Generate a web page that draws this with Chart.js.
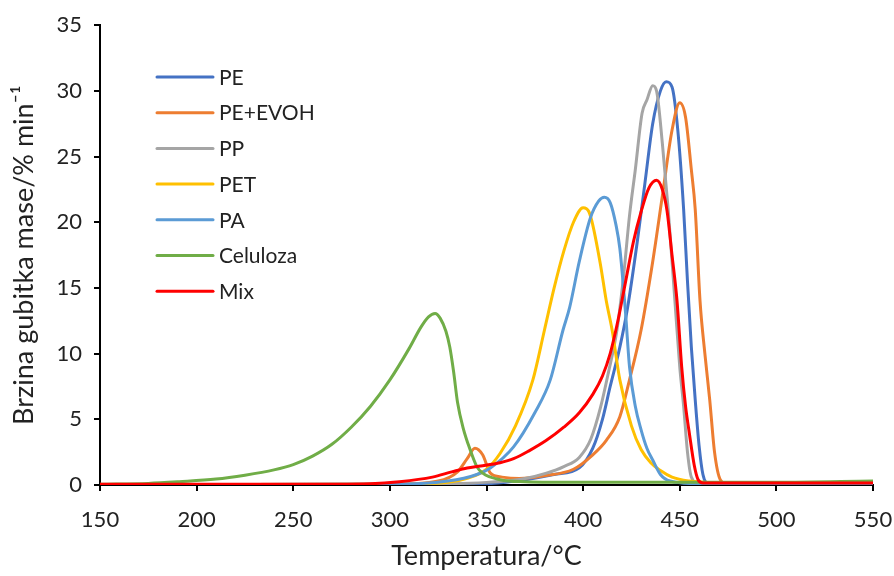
<!DOCTYPE html>
<html>
<head>
<meta charset="utf-8">
<script src="https://cdn.jsdelivr.net/npm/chart.js@4.4.0/dist/chart.umd.min.js"></script>
<style>
  html, body { margin: 0; padding: 0; background: #fff; }
  #wrap { width: 894px; height: 576px; }
</style>
</head>
<body>
<div id="wrap"><canvas id="myChart" width="894" height="576"></canvas></div>
<script>
// temperatures (°C) and rates (% min-1)
var peT   = [150, 300, 350, 370, 385, 398, 405, 410, 414, 419, 423, 428, 432, 436, 440, 443, 446, 449, 452, 454, 456, 458, 460, 462, 465, 470, 550];
var peY   = [0.02, 0.05, 0.1, 0.4, 0.8, 1.3, 2.8, 5, 7.5, 10.5, 13.5, 18.5, 23, 27.5, 30, 30.7, 30.3, 27, 21, 15.5, 10.5, 6.5, 3, 0.8, 0.1, 0.05, 0.05];

var evohT = [150, 300, 325, 335, 340, 344, 348, 352, 358, 367, 380, 395, 405, 412, 419, 424, 430, 436, 441, 446, 450, 453, 456, 458, 460.5, 463, 465.5, 468, 471, 475, 550];
var evohY = [0.02, 0.05, 0.3, 1.0, 2.0, 2.8, 2.3, 0.9, 0.6, 0.5, 0.7, 1.2, 2.3, 3.4, 5.2, 8, 11.8, 17, 22, 27, 29.1, 28, 24, 21, 14, 10, 6.5, 2.5, 0.4, 0.05, 0.05];

var ppT   = [150, 300, 350, 370, 381, 390, 398, 404, 409, 413, 417.5, 421, 424, 427, 430.5, 433, 436, 438, 441, 444, 447.5, 450, 452, 454, 456, 460, 550];
var ppY   = [0.02, 0.05, 0.2, 0.5, 0.9, 1.4, 2.1, 3.5, 5.9, 8.5, 11.8, 16, 20.5, 24, 28.3, 29.3, 30.4, 30, 26, 21, 14, 9, 6, 2.5, 0.6, 0.1, 0.05];

var petT  = [150, 300, 330, 340, 350, 357, 365, 374, 380, 385, 390, 395, 400, 403, 408.7, 412, 415, 419, 425, 430, 435, 440, 446, 455, 470, 500, 550];
var petY  = [0.02, 0.05, 0.2, 0.5, 1.2, 2.4, 4.5, 8, 11.8, 15, 17.8, 20, 21.1, 20.8, 17, 14, 11.8, 8, 4.5, 2.7, 1.7, 1.1, 0.6, 0.3, 0.15, 0.1, 0.15];

var paT   = [150, 300, 330, 345, 352, 364, 375, 383, 389.6, 393, 398, 403.7, 408, 411, 414, 417, 419, 422, 424, 427, 430, 433, 436, 440, 445, 460, 550];
var paY   = [0.02, 0.05, 0.3, 0.8, 1.3, 2.9, 5.5, 8, 11.8, 13.5, 17, 20.3, 21.6, 21.9, 21.5, 19.8, 18, 13, 9, 6, 4.2, 2.8, 1.9, 0.8, 0.3, 0.1, 0.1];

var celT  = [150, 175, 191, 210, 225, 240, 250, 260, 270, 280, 290, 300, 310, 316, 320, 323.4, 326, 329, 331, 333, 335, 338, 341.5, 345, 348, 357, 370, 400, 450, 500, 550];
var celY  = [0.05, 0.12, 0.25, 0.45, 0.75, 1.15, 1.55, 2.2, 3.1, 4.4, 6.0, 8.0, 10.4, 12.0, 12.8, 13.06, 12.7, 11.7, 10.5, 8.6, 6.3, 4.3, 2.7, 1.4, 0.9, 0.4, 0.25, 0.2, 0.2, 0.2, 0.3];

var mixT  = [150, 250, 290, 305, 322, 332, 340, 347, 357, 364, 372, 381, 390, 398, 405, 410, 414, 418, 422, 426, 430, 434, 438, 441, 443.4, 446, 448.6, 451, 453, 455, 457.5, 459.5, 462, 550];
var mixY  = [0.05, 0.05, 0.1, 0.25, 0.6, 1.0, 1.3, 1.45, 1.7, 2.0, 2.6, 3.4, 4.4, 5.5, 6.9, 8.3, 10, 12.5, 15.5, 18.5, 20.8, 22.6, 23.2, 22.5, 20.9, 17.5, 14, 9, 6, 3.9, 1.5, 0.4, 0.15, 0.15];

var seriesNames  = ['PE', 'PE+EVOH', 'PP', 'PET', 'PA', 'Celuloza', 'Mix'];
var seriesColors = ['#4472C4', '#ED7D31', '#A5A5A5', '#FFC000', '#5B9BD5', '#70AD47', '#FF0000'];
var seriesT = [peT, evohT, ppT, petT, paT, celT, mixT];
var seriesY = [peY, evohY, ppY, petY, paY, celY, mixY];

var FONT = 'Lato, "Open Sans", sans-serif';

function toPoints(xs, ys) {
	var pts = [];
	for (var i = 0; i < xs.length; i++) {
		pts.push({ x: xs[i], y: ys[i] });
	}
	return pts;
}

var datasets = [];
for (var i = 0; i < seriesNames.length; i++) {
	datasets.push({
		label: seriesNames[i],
		data: toPoints(seriesT[i], seriesY[i]),
		borderColor: seriesColors[i],
		backgroundColor: seriesColors[i],
		borderWidth: 3,
		pointRadius: 0,
		fill: false,
		cubicInterpolationMode: 'monotone',
		order: seriesNames.length - i
	});
}

// legend sits inside the plot, like the Excel original
var insideLegend = {
	id: 'insideLegend',
	afterDraw: function(chart) {
		var ctx = chart.ctx;
		ctx.save();
		ctx.font = '21px ' + FONT;
		ctx.textBaseline = 'middle';
		ctx.textAlign = 'left';
		for (var i = 0; i < seriesNames.length; i++) {
			var y = 77 + i * 35.7;
			ctx.strokeStyle = seriesColors[i];
			ctx.lineWidth = 3;
			ctx.lineCap = 'round';
			ctx.beginPath();
			ctx.moveTo(157, y);
			ctx.lineTo(213, y);
			ctx.stroke();
			ctx.fillStyle = '#222';
			ctx.fillText(seriesNames[i], 219, y + 1);
		}
		ctx.restore();
	}
};

var ctx = document.getElementById('myChart').getContext('2d');
new Chart(ctx, {
	type: 'line',
	data: { datasets: datasets },
	plugins: [insideLegend],
	options: {
		responsive: false,
		animation: false,
		layout: { padding: { top: 24, right: 21, left: 0, bottom: 0 } },
		plugins: {
			legend: { display: false },
			tooltip: { enabled: false }
		},
		scales: {
			x: {
				type: 'linear',
				min: 150,
				max: 550,
				ticks: { stepSize: 50, color: '#222', font: { family: FONT, size: 22 }, padding: 16, maxRotation: 0 },
				grid: { drawOnChartArea: false, drawTicks: true, tickLength: 6, color: '#000', lineWidth: 2 },
				border: { color: '#000', width: 2 },
				title: { display: true, text: 'Temperatura/°C', color: '#222', font: { family: FONT, size: 27 }, padding: { top: 4 } },
				afterFit: function(scale) {
					scale.height = 91;
					scale.paddingLeft = 0;
					scale.paddingRight = 0;
				}
			},
			y: {
				min: 0,
				max: 35,
				ticks: { stepSize: 5, color: '#222', font: { family: FONT, size: 22 }, padding: 12 },
				grid: { drawOnChartArea: false, drawTicks: true, tickLength: 6, color: '#000', lineWidth: 2 },
				border: { color: '#000', width: 2 },
				title: { display: true, text: 'Brzina gubitka mase/% min\u207B\u00B9', color: '#222', font: { family: FONT, size: 27 }, padding: { top: 8, bottom: 0 } },
				afterFit: function(scale) { scale.width = 100; }
			}
		}
	}
});
</script>
</body>
</html>
